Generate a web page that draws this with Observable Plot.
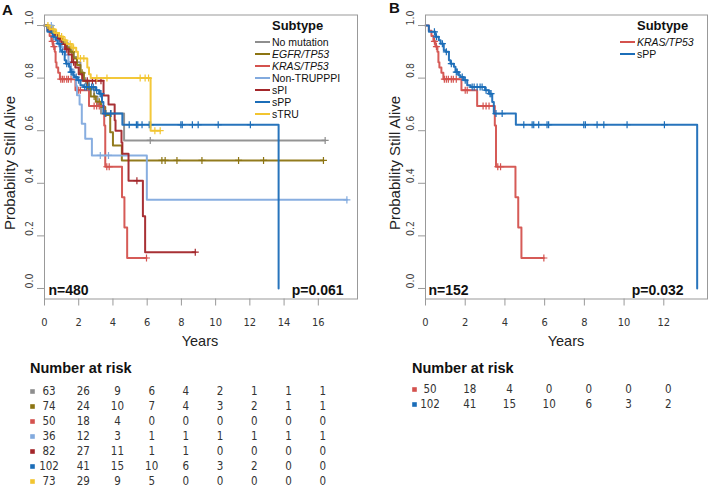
<!DOCTYPE html>
<html><head><meta charset="utf-8">
<script src="https://cdn.jsdelivr.net/npm/d3@7"></script>
<script src="https://cdn.jsdelivr.net/npm/@observablehq/plot@0.6"></script>
<style>
body{margin:0;background:#fff;font-family:"Liberation Sans",Arial,sans-serif;}
#root{position:relative;width:709px;height:489px;overflow:hidden;background:#fff;}
.abs{position:absolute;white-space:nowrap;}
.lg{position:absolute;height:12px;line-height:12px;font-size:10.5px;color:#111;white-space:nowrap;}
.lg .sw{display:inline-block;width:15px;height:0;border-top:2.5px solid #000;vertical-align:middle;margin-right:2px;position:relative;top:-1px;}
</style></head><body><div id="root"></div>
<script>
// ---------------- DATA ----------------
const subtypes = ["No mutation","EGFR/TP53","KRAS/TP53","Non-TRUPPPI","sPI","sPP","sTRU"];
const subtypeColors = ["#8e8e8e","#8c7412","#d4524e","#82aade","#a3262a","#1b6db8","#f2c530"];
const subtypeItalic = [false,true,true,false,false,false,false];

// Kaplan-Meier step times (years) and survival after each step, plus censor times
const noMutTimes = [0.3,0.6,0.8,1.0,1.3,1.5,1.7,1.9,2.1,2.3,2.6,2.9,3.1,3.3,4.65];
const noMutSurv  = [0.984,0.968,0.952,0.936,0.92,0.90,0.88,0.86,0.82,0.79,0.76,0.73,0.70,0.665,0.563];
const noMutCensor = [0.7,1.2,2.4,3.6,3.9,6.18,16.4];

const egfrTimes = [0.2,0.4,0.6,0.9,1.1,1.3,1.5,1.7,1.9,2.1,2.3,2.5,2.7,3.0,3.3,3.55,3.84,4.0,4.52];
const egfrSurv  = [0.986,0.972,0.958,0.944,0.93,0.915,0.90,0.875,0.85,0.82,0.79,0.76,0.73,0.71,0.69,0.66,0.594,0.544,0.487];
const egfrCensor = [0.5,1.0,1.6,2.2,2.9,3.2,6.86,7.05,7.74,9.2,11.34,12.8,16.3];

const krasTimes = [0.17,0.3,0.4,0.5,0.6,0.65,0.7,0.8,0.9,1.81,2.6,3.49,3.55,4.53,4.67,4.83];
const krasSurv  = [0.98,0.96,0.94,0.92,0.90,0.86,0.84,0.82,0.796,0.754,0.694,0.62,0.463,0.347,0.232,0.116];
const krasCensor = [0.45,0.55,0.95,1.05,1.15,1.3,1.4,1.55,2.0,2.1,2.9,3.05,3.2,3.64,3.78,5.96];

const nonTruTimes = [0.5,0.8,1.0,1.2,1.4,1.55,1.7,1.85,1.9,2.05,2.18,2.38,2.77,5.98];
const nonTruSurv  = [0.972,0.944,0.917,0.889,0.861,0.833,0.80,0.77,0.735,0.70,0.626,0.569,0.506,0.337];
const nonTruCensor = [0.4,3.26,3.74,17.67];

const spiTimes = [0.2,0.4,0.6,0.8,1.0,1.2,1.4,1.6,1.8,2.0,2.2,3.45,3.74,4.1,4.15,4.5,4.55,4.91,5.75,5.88];
const spiSurv  = [0.988,0.975,0.963,0.95,0.93,0.91,0.89,0.86,0.84,0.815,0.79,0.734,0.70,0.64,0.60,0.555,0.512,0.41,0.275,0.138];
const spiCensor = [0.5,0.9,1.3,1.7,2.5,2.8,3.0,3.3,5.4,8.81];

const sppTimes = [0.17,0.5,0.67,0.76,0.92,1.01,1.18,1.26,1.43,1.51,1.68,1.76,1.93,2.1,2.27,3.0,3.19,3.36,3.44,4.55,13.68];
const sppSurv  = [0.976,0.957,0.944,0.931,0.906,0.90,0.868,0.855,0.843,0.823,0.811,0.804,0.792,0.773,0.766,0.754,0.741,0.709,0.665,0.623,0];
const sppCensor = [0.45,0.55,0.85,1.05,1.3,1.55,1.6,1.85,2.0,2.35,2.45,2.6,2.75,2.85,3.05,3.25,3.3,3.55,3.86,4.95,5.37,5.45,5.7,6.12,6.2,7.97,8.05,8.64,8.98,10.15,12.03];

const struTimes = [0.3,0.6,0.85,1.1,1.3,1.6,1.85,1.95,2.5,2.6,2.7,6.2];
const struSurv  = [0.986,0.972,0.958,0.944,0.93,0.915,0.90,0.875,0.84,0.815,0.80,0.60];
const struCensor = [0.2,0.5,0.7,1.0,1.2,1.5,1.7,2.1,2.3,3.06,3.65,5.59,5.88,6.08,6.45,6.76];

// Number at risk
const riskTimesA = [0,2,4,6,8,10,12,14,16];
const riskNoMut  = [63,26,9,6,4,2,1,1,1];
const riskEgfr   = [74,24,10,7,4,3,2,1,1];
const riskKras   = [50,18,4,0,0,0,0,0,0];
const riskNonTru = [36,12,3,1,1,1,1,1,1];
const riskSpi    = [82,27,11,1,1,0,0,0,0];
const riskSpp    = [102,41,15,10,6,3,2,0,0];
const riskStru   = [73,29,9,5,0,0,0,0,0];
const riskTimesB = [0,2,4,6,8,10,12];
const riskKrasB  = [50,18,4,0,0,0,0];
const riskSppB   = [102,41,15,10,6,3,2];

const xTicksA = [0,2,4,6,8,10,12,14,16];
const xTicksB = [0,2,4,6,8,10,12];
const yTicks = [0,0.2,0.4,0.6,0.8,1.0];
const nA = 480, pA = "0.061", nB = 152, pB = "0.032";
const groupsB = ["KRAS/TP53","sPP"];

// ---------------- BUILD ----------------
const kmTimes = [noMutTimes,egfrTimes,krasTimes,nonTruTimes,spiTimes,sppTimes,struTimes];
const kmSurv = [noMutSurv,egfrSurv,krasSurv,nonTruSurv,spiSurv,sppSurv,struSurv];
const kmCensor = [noMutCensor,egfrCensor,krasCensor,nonTruCensor,spiCensor,sppCensor,struCensor];
const riskA = [riskNoMut,riskEgfr,riskKras,riskNonTru,riskSpi,riskSpp,riskStru];
const riskB = [riskKrasB,riskSppB];

function survAt(times, surv, t){let s=1;for(let i=0;i<times.length;i++){if(times[i]<=t)s=surv[i];}return s;}
function series(i){
  const times=kmTimes[i], surv=kmSurv[i], cens=kmCensor[i];
  const pts=[{t:0,s:1}];
  times.forEach((t,j)=>pts.push({t,s:surv[j]}));
  const last=times[times.length-1], end=Math.max(last,...cens);
  if(end>last) pts.push({t:end,s:surv[surv.length-1]});
  const cpts=cens.map(t=>({t,s:survAt(times,surv,t)}));
  return {pts,cpts,color:subtypeColors[i]};
}
function kmMarks(idx){
  const m=[];
  idx.forEach(i=>{
    const s=series(i);
    m.push(Plot.line(s.pts,{x:"t",y:"s",stroke:s.color,strokeWidth:2,curve:"step-after",strokeOpacity:0.95}));
    m.push(Plot.dot(s.cpts,{x:"t",y:"s",symbol:"plus",stroke:s.color,r:2.4,strokeWidth:1.2}));
  });
  return m;
}
const fontNarrow='"Liberation Sans Narrow","Arial Narrow","DejaVu Sans Condensed",sans-serif';
function kmPlot(opts){
  return Plot.plot({
    width:opts.width,height:345,
    marginLeft:opts.ml,marginRight:opts.mr,marginTop:14.5,marginBottom:46.5,
    x:{domain:[0,opts.xmax]},
    y:{domain:[-0.04,1.04]},
    style:{fontFamily:fontNarrow,background:"transparent",overflow:"visible"},
    marks:[
      ...kmMarks(opts.idx),
      Plot.frame({stroke:"#999"}),
      Plot.axisX({ticks:opts.xticks,tickSize:7,tickPadding:12,stroke:"#999",fill:"#333",fontSize:11,label:null}),
      Plot.axisY({ticks:yTicks,tickSize:7,stroke:"#999",tickFormat:()=>"",label:null}),
      Plot.text(yTicks,{y:d=>d,text:d=>d.toFixed(1),frameAnchor:"left",dx:-15,rotate:-90,fontSize:10.5,fill:"#444"}),
      Plot.text([opts.n],{text:d=>`n=${d}`,frameAnchor:"bottom-left",dx:opts.ndx,dy:-4,textAnchor:"start",lineAnchor:"bottom",fontWeight:"bold",fontSize:14,fill:"#111",fontFamily:"Liberation Sans, Arial, sans-serif"}),
      Plot.text([opts.p],{text:d=>`p=${d}`,frameAnchor:"bottom-right",dx:opts.pdx,dy:-4,textAnchor:"end",lineAnchor:"bottom",fontWeight:"bold",fontSize:14,fill:"#111",fontFamily:"Liberation Sans, Arial, sans-serif"})
    ]
  });
}
function riskPlot(opts){
  const rows=[];
  opts.groups.forEach((g,gi)=>opts.times.forEach((t,ti)=>rows.push({g,t,n:opts.values[gi][ti]})));
  return Plot.plot({
    width:opts.width,height:opts.height,
    marginLeft:opts.ml,marginRight:opts.mr,marginTop:10.3,marginBottom:opts.height-10.3-15.83*(opts.groups.length-1),
    x:{domain:[0,opts.xmax],axis:null},
    y:{type:"point",domain:opts.groups,padding:0,axis:null},
    color:{type:"identity"},
    style:{fontFamily:fontNarrow,background:"transparent",overflow:"visible"},
    marks:[
      Plot.text(rows,{x:"t",y:"g",text:"n",dx:4.5,fontSize:11.5,fill:"#333"}),
      Plot.dot(opts.groups,{x:()=>opts.times[0],y:d=>d,symbol:"square",fill:(d,i)=>opts.colors[i],r:2.6,dx:opts.sqdx})
    ]
  });
}

const root=document.getElementById("root");
function place(el,left,top){el.style.position="absolute";el.style.left=left+"px";el.style.top=top+"px";root.appendChild(el);}
function addDiv(html,css){const d=document.createElement("div");d.className="abs";d.innerHTML=html;d.style.cssText+=css;root.appendChild(d);return d;}

place(kmPlot({width:360,ml:44,mr:3,xmax:18.29,idx:[0,1,2,3,4,5,6],xticks:xTicksA,n:nA,p:pA,ndx:4,pdx:-14}),0,0);
place(kmPlot({width:349,ml:65,mr:2,xmax:14.2,idx:[2,5],xticks:xTicksB,n:nB,p:pB,ndx:3,pdx:-24}),360,0);

place(riskPlot({width:360,height:111,ml:44,mr:3,xmax:18.29,groups:subtypes,times:riskTimesA,values:riskA,colors:subtypeColors,sqdx:-12}),0,378);
place(riskPlot({width:349,height:40,ml:65,mr:2,xmax:14.2,groups:groupsB,times:riskTimesB,values:riskB,colors:[subtypeColors[2],subtypeColors[5]],sqdx:-11}),360,378);

// Titles, axis labels
addDiv("A","left:2px;top:1px;font-size:15px;font-weight:bold;color:#111;");
addDiv("B","left:389px;top:-1px;font-size:15px;font-weight:bold;color:#111;");
addDiv("Years","left:200px;top:341px;transform:translate(-50%,-50%);font-size:14.5px;color:#222;");
addDiv("Years","left:566px;top:341px;transform:translate(-50%,-50%);font-size:14.5px;color:#222;");
addDiv("Probability Still Alive","left:9px;top:163px;transform:translate(-50%,-50%) rotate(-90deg);font-size:15px;color:#222;");
addDiv("Probability Still Alive","left:394px;top:163px;transform:translate(-50%,-50%) rotate(-90deg);font-size:15px;color:#222;");
addDiv("Number at risk","left:30px;top:368px;transform:translateY(-50%);font-size:14.5px;font-weight:bold;color:#111;");
addDiv("Number at risk","left:412px;top:368px;transform:translateY(-50%);font-size:14.5px;font-weight:bold;color:#111;");

// Legends
function legend(x0,titleY,firstY,step,names,colors,ital){
  addDiv("Subtype",`left:${x0+17}px;top:${titleY}px;transform:translateY(-50%);font-size:13px;line-height:14px;font-weight:bold;color:#111;`);
  names.forEach((nm,i)=>{
    const d=document.createElement("div");d.className="lg";
    d.style.left=x0+"px";d.style.top=(firstY+step*i-6)+"px";
    d.innerHTML=`<span class="sw" style="border-top-color:${colors[i]}"></span><span style="${ital[i]?"font-style:italic;":""}">${nm}</span>`;
    root.appendChild(d);
  });
}
legend(255,26,41.5,12.1,subtypes,subtypeColors,subtypeItalic);
legend(620,26,41.5,12.1,groupsB,[subtypeColors[2],subtypeColors[5]],[true,false]);
</script></body></html>
